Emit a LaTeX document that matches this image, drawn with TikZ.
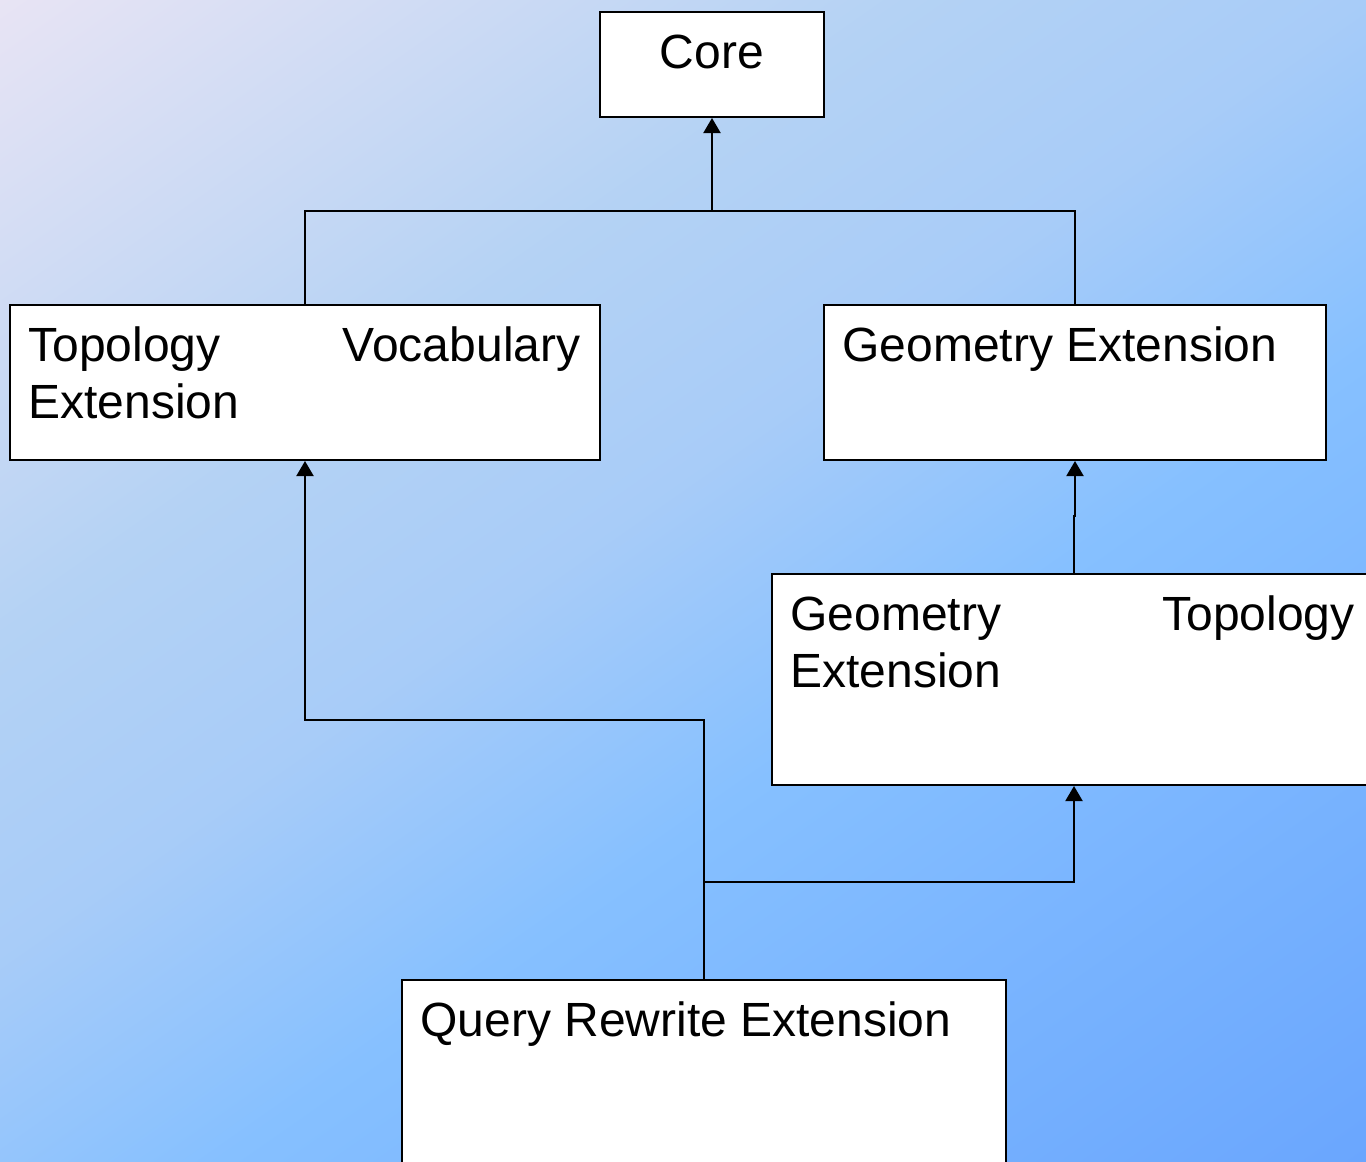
\documentclass[tikz,border=0pt]{standalone}
\usepackage{fontspec}
\setmainfont{Liberation Sans}
\usetikzlibrary{arrows.meta}
\definecolor{bgtop}{HTML}{E8E4F4}
\definecolor{bglight}{HTML}{B4D2F4}
\definecolor{bgpale}{HTML}{A8CCF8}
\definecolor{bgmid}{HTML}{86C0FF}
\definecolor{bgbot}{HTML}{6AA6FE}
\pgfdeclareverticalshading{bgramp}{100bp}{color(0bp)=(bgbot); color(25bp)=(bgbot);
  color(44bp)=(bgmid); color(52.5bp)=(bgpale); color(60bp)=(bglight);
  color(75bp)=(bgtop); color(100bp)=(bgtop)}

\begin{document}
\begin{tikzpicture}[x=0.5pt,y=-0.5pt,
  pkg/.style={draw=black, fill=white, line width=1pt, inner sep=0pt},
  pkgtext/.style={inner sep=0pt, align=left, font=\fontsize{24}{28.5}\selectfont},
  link/.style={line width=1pt},
  dep/.style={line width=1pt, -{Triangle[width=8.5pt,length=7.5pt]}}]
\useasboundingbox (0,0) rectangle (1366,1162);
\clip (0,0) rectangle (1366,1162);
\shade[shading=bgramp, shading angle=35] (683,581) +(-868,-868) rectangle +(868,868);
% packages
\node[pkg, minimum width=112pt, minimum height=52.5pt] (core) at (712,64.5) {};
\node[pkg, minimum width=295pt, minimum height=77.5pt] (topvoc) at (305,382.5) {};
\node[pkg, minimum width=251pt, minimum height=77.5pt] (geoext) at (1075,382.5) {};
\node[pkg, minimum width=302pt, minimum height=105.5pt] (geotop) at (1074,679.5) {};
\node[pkg, minimum width=302pt, minimum height=105.5pt] (query) at (704,1085.5) {};
% labels
\node[pkgtext, anchor=base] (coretxt) at ([yshift=-28.5pt]core.north) {Core};
\node[pkgtext, anchor=base west, text width=276pt] (topvoctxt) at ([shift={(19,57)}]topvoc.north west) {Topology\hfill Vocabulary\\Extension};
\node[pkgtext, anchor=base west] (geoexttxt) at ([shift={(19,57)}]geoext.north west) {Geometry Extension};
\node[pkgtext, anchor=base west, text width=282pt] (geotoptxt) at ([shift={(19,57)}]geotop.north west) {Geometry\hfill Topology\\Extension};
\node[pkgtext, anchor=base west] (querytxt) at ([shift={(19,57)}]query.north west) {Query Rewrite Extension};
% dependencies
\coordinate (join) at (712,211);
\coordinate (qbend) at (305,720);
\coordinate (qsplit) at (704,882);
\draw[link] (topvoc.north) |- (join);
\draw[link] (geoext.north) |- (join);
\draw[dep] (join) -- (core.south);
\draw[dep] (query.north) |- (qbend) -- (topvoc.south);
\draw[dep] (qsplit) -| (geotop.south);
\draw[dep] (geotop.north) -- ++(0,-57) -| (geoext.south);
\end{tikzpicture}
\end{document}
